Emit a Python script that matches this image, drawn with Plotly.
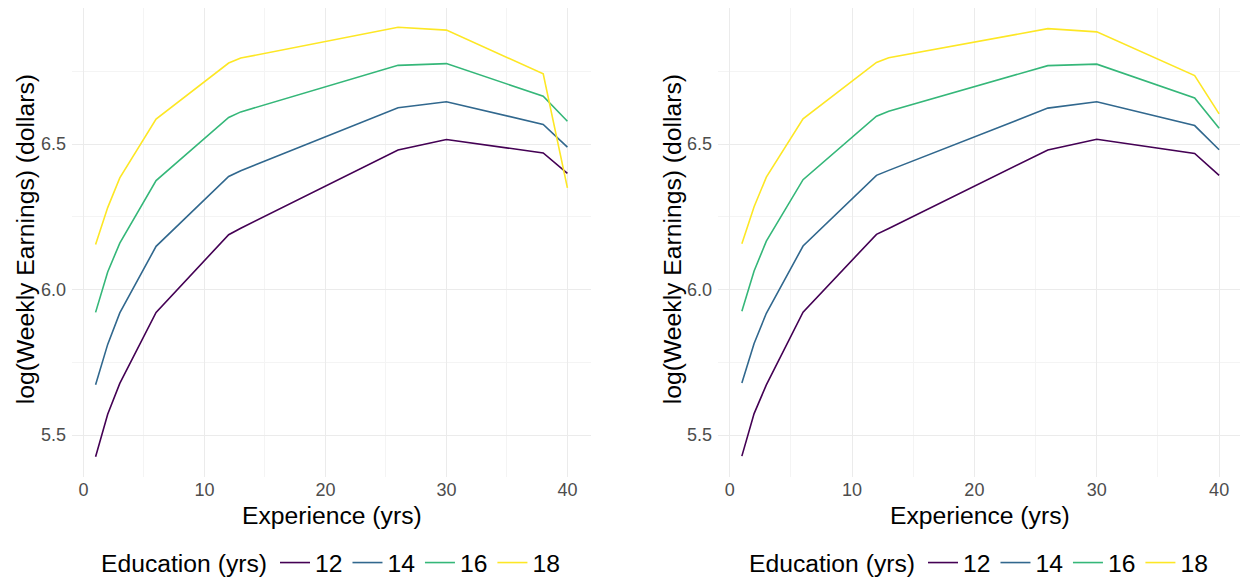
import plotly.graph_objects as go

# page has an 8px body margin, so the figure is drawn 8px lower/right
OFF = 8
W, H = 1240, 578

experience = [1, 2, 3, 6, 12, 13, 26, 30, 38, 40]
education = ["12", "14", "16", "18"]
colors = ["#440154", "#31688E", "#35B779", "#FDE725"]

left_12 = [5.426, 5.572, 5.678, 5.922, 6.189, 6.211, 6.480, 6.516, 6.470, 6.400]
left_14 = [5.673, 5.812, 5.920, 6.149, 6.389, 6.409, 6.625, 6.646, 6.568, 6.490]
left_16 = [5.922, 6.061, 6.160, 6.375, 6.592, 6.611, 6.771, 6.777, 6.665, 6.579]
left_18 = [6.155, 6.282, 6.384, 6.586, 6.779, 6.796, 6.902, 6.892, 6.742, 6.350]

right_12 = [5.428, 5.574, 5.673, 5.923, 6.190, 6.210, 6.480, 6.517, 6.468, 6.393]
right_14 = [5.679, 5.815, 5.919, 6.150, 6.393, 6.410, 6.624, 6.646, 6.564, 6.481]
right_16 = [5.926, 6.064, 6.167, 6.378, 6.596, 6.613, 6.770, 6.775, 6.659, 6.555]
right_18 = [6.158, 6.285, 6.387, 6.587, 6.781, 6.797, 6.897, 6.886, 6.736, 6.604]

x_ticks = [0, 10, 20, 30, 40]
y_ticks = [5.5, 6.0, 6.5]
y_tick_text = ["5.5", "6.0", "6.5"]

FONT = "Liberation Sans, Arial, sans-serif"
TICK_SIZE = 18
TITLE_SIZE = 24.7

fig = go.Figure()

left_series = [left_12, left_14, left_16, left_18]
right_series = [right_12, right_14, right_16, right_18]

for ed, col, ys in zip(education, colors, left_series):
    fig.add_trace(go.Scatter(x=experience, y=ys, mode="lines", name=ed,
                             line=dict(color=col, width=1.6),
                             xaxis="x", yaxis="y", legend="legend"))
for ed, col, ys in zip(education, colors, right_series):
    fig.add_trace(go.Scatter(x=experience, y=ys, mode="lines", name=ed,
                             line=dict(color=col, width=1.6),
                             xaxis="x2", yaxis="y2", legend="legend2"))

# panel geometry in screen pixels
L1, R1 = 72, 591
L2, R2 = 718, 1243
TOP, BOT = 0, 479

def px_x(p):
    return (p - OFF) / W

def px_y(p):
    return 1 - (p - OFF) / H

grid_major = "#EBEBEB"
grid_minor = "#F4F4F4"

def xaxis_cfg(dom, anchor):
    return dict(domain=[max(0, px_x(dom[0])), min(1, px_x(dom[1]))], anchor=anchor,
                range=[-0.95, 41.95], tickvals=x_ticks, showgrid=True,
                gridcolor=grid_major, gridwidth=1.1, zeroline=False,
                showline=False, ticks="",
                tickfont=dict(family=FONT, size=TICK_SIZE, color="#4D4D4D"),
                minor=dict(tickvals=[5, 15, 25, 35], showgrid=True,
                           gridcolor=grid_minor, gridwidth=0.6),
                automargin=False, fixedrange=True)

def yaxis_cfg(anchor):
    return dict(domain=[px_y(BOT), min(1, px_y(TOP))], anchor=anchor,
                range=[5.355, 6.968], tickvals=y_ticks, ticktext=y_tick_text,
                showgrid=True, gridcolor=grid_major, gridwidth=1.1,
                zeroline=False, showline=False, ticks="",
                ticklabelstandoff=5,
                tickfont=dict(family=FONT, size=TICK_SIZE, color="#4D4D4D"),
                minor=dict(tickvals=[5.75, 6.25, 6.75], showgrid=True,
                           gridcolor=grid_minor, gridwidth=0.6),
                automargin=False, fixedrange=True)

legend_common = dict(orientation="h", yanchor="middle", xanchor="center",
                     title=dict(text="Education (yrs)",
                                font=dict(size=TITLE_SIZE, family=FONT)),
                     font=dict(size=TITLE_SIZE, family=FONT), itemwidth=30,
                     bgcolor="rgba(0,0,0,0)")

fig.update_layout(
    width=W, height=H,
    margin=dict(l=0, r=0, t=0, b=0),
    paper_bgcolor="white", plot_bgcolor="white",
    font=dict(family=FONT, color="black"),
    xaxis=xaxis_cfg((L1, R1), "y"),
    yaxis=yaxis_cfg("x"),
    xaxis2=xaxis_cfg((L2, R2), "y2"),
    yaxis2=yaxis_cfg("x2"),
    legend=dict(x=px_x(332), y=px_y(565), **legend_common),
    legend2=dict(x=px_x(980), y=px_y(565), **legend_common),
    showlegend=True,
)

annots = [
    dict(text="Experience (yrs)", x=px_x(332), y=px_y(517)),
    dict(text="Experience (yrs)", x=px_x(980), y=px_y(517)),
    dict(text="log(Weekly Earnings) (dollars)", x=px_x(25), y=px_y(240), textangle=-90),
    dict(text="log(Weekly Earnings) (dollars)", x=px_x(672), y=px_y(240), textangle=-90),
]
for a in annots:
    fig.add_annotation(xref="paper", yref="paper", showarrow=False,
                       xanchor="center", yanchor="middle",
                       font=dict(size=TITLE_SIZE, family=FONT, color="black"), **a)

fig.write_html("out.html")
